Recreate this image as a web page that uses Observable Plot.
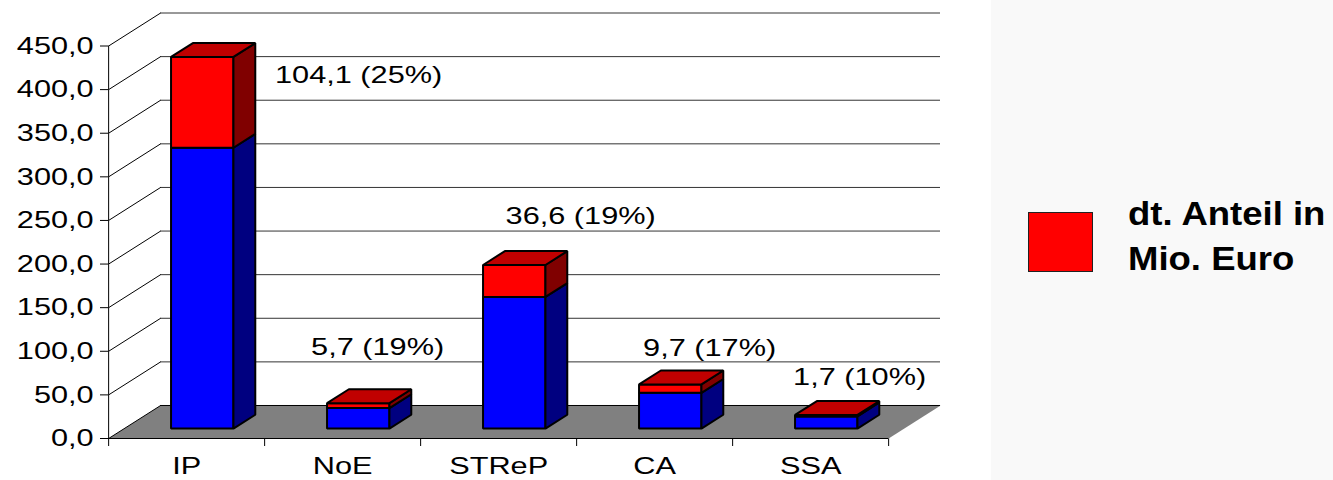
<!DOCTYPE html>
<html>
<head>
<meta charset="utf-8">
<script src="https://cdn.jsdelivr.net/npm/d3@7"></script>
<script src="https://cdn.jsdelivr.net/npm/@observablehq/plot@0.6"></script>
<style>
  body { margin: 0; background: #fff; }
  #wrap { display: flex; width: 1333px; height: 480px; overflow: hidden; }
  #chart { width: 991px; height: 480px; flex: none; }
  #legend { position: relative; width: 342px; height: 480px; flex: none; background: #f9f9f9;
            font-family: "Liberation Sans", Arial, sans-serif; }
  #legend .swatch { position: absolute; left: 37px; top: 212px; width: 63px; height: 58px;
            background: #ff0000; border: 1px solid #222; }
  #legend .ltext { position: absolute; left: 137px; top: 191px; font-weight: bold; font-size: 33.5px;
            line-height: 45px; transform: scaleX(1.09); transform-origin: left top; white-space: nowrap; color: #000; }
</style>
</head>
<body>
<div id="wrap">
  <div id="chart"></div>
  <div id="legend"><div class="swatch"></div><div class="ltext" id="ltext"></div></div>
</div>
<script>
// ---------- data ----------
const categories   = ["IP", "NoE", "STReP", "CA", "SSA"];
const otherShare   = [322, 23.5, 151, 41, 14];          // blue part
const germanShare  = [104.1, 5.7, 36.6, 9.7, 1.7];      // red part (dt. Anteil)
const valueLabels  = ["104,1 (25%)", "5,7 (19%)", "36,6 (19%)", "9,7 (17%)", "1,7 (10%)"];
const yTicks       = [0, 50, 100, 150, 200, 250, 300, 350, 400, 450];
const legendLines  = ["dt. Anteil in", "Mio. Euro"];

// ---------- layout ----------
const S = 1.28;                       // horizontal stretch of the original picture
const W_DISPLAY = 991, H = 480;
const W = W_DISPLAY / S;
const PX_X = 156;                     // stretched px per category
const PX_Y = 0.8722;                  // px per value unit
const DEPTH_X = 52 / PX_X;            // 3D depth offset, category units
const DEPTH_Y = 33 / PX_Y;            // 3D depth offset, value units
const Z1 = 0.3, Z2 = 0.72, GAP = 0.3;
const labelNudge = [[172, 8], [35, -65.5], [82, -58.4], [55, -45.8], [49, -47.3]]; // stretched px

const P = (x, v, z) => ({x: x + z * DEPTH_X, y: v + z * DEPTH_Y});
const faces = {blueFront: [], blueSide: [], redFront: [], redSide: [], redTop: []};
let fid = 0;
function add(kind, pts) { const id = fid++; pts.forEach(p => faces[kind].push({...p, id})); }

categories.forEach((c, i) => {
  const x0 = i + GAP, x1 = i + 1 - GAP;
  const segs = [["blue", 0, otherShare[i]], ["red", otherShare[i], otherShare[i] + germanShare[i]]];
  segs.forEach(([col, v0, v1]) => {
    add(col + "Front", [P(x0, v0, Z1), P(x1, v0, Z1), P(x1, v1, Z1), P(x0, v1, Z1)]);
    add(col + "Side",  [P(x1, v0, Z1), P(x1, v0, Z2), P(x1, v1, Z2), P(x1, v1, Z1)]);
  });
  const t = otherShare[i] + germanShare[i];
  add("redTop", [P(x0, t, Z1), P(x1, t, Z1), P(x1, t, Z2), P(x0, t, Z2)]);
});

const floor = [P(0, 0, 0), P(5, 0, 0), P(5, 0, 1), P(0, 0, 1)];
const labelData = categories.map((c, i) => {
  const t = otherShare[i] + germanShare[i];
  return {x: i + 0.5 + labelNudge[i][0] / PX_X, y: t - labelNudge[i][1] / PX_Y, text: valueLabels[i]};
});

const faceMark = (kind, fill) => Plot.line(faces[kind], {
  x: "x", y: "y", z: "id", fill, stroke: "black", strokeWidth: 2,
  strokeLinejoin: "miter", curve: "linear-closed"
});

const chart = Plot.plot({
  width: W, height: H,
  marginLeft: 108 / S, marginRight: W - (108 + (5 + DEPTH_X) * PX_X) / S,
  marginTop: 12.5, marginBottom: 42,
  style: {fontFamily: "'Liberation Sans', Arial, sans-serif", fontSize: "24px", color: "black", background: "white", overflow: "visible"},
  x: {type: "linear", domain: [0, 5 + DEPTH_X], ticks: [0, 1, 2, 3, 4, 5], tickFormat: () => "", tickSize: 8, label: null},
  y: {type: "linear", domain: [0, 450 + DEPTH_Y], ticks: yTicks, tickSize: 8 / S, tickPadding: 7 / S,
      tickFormat: d => d.toFixed(1).replace(".", ","), label: null},
  marks: [
    Plot.line(floor, {x: "x", y: "y", fill: "#808080", stroke: "none", curve: "linear-closed"}),
    Plot.ruleY(yTicks.slice(1), {y: d => d + DEPTH_Y, x1: DEPTH_X, x2: 5 + DEPTH_X, stroke: "#333", strokeWidth: 1}),
    Plot.ruleY([0], {y: d => d + DEPTH_Y, x1: DEPTH_X, x2: 5 + DEPTH_X, stroke: "black", strokeWidth: 1}),
    Plot.link(yTicks, {x1: 0, y1: d => d, x2: DEPTH_X, y2: d => d + DEPTH_Y, stroke: "black", strokeWidth: 1}),
    Plot.ruleY([0], {x1: 0, x2: 5, stroke: "black", strokeWidth: 1}),
    Plot.ruleX([0], {y1: 0, y2: 450, stroke: "black", strokeWidth: 1}),
    faceMark("blueFront", "#0000ff"),
    faceMark("blueSide", "#000080"),
    faceMark("redFront", "#ff0000"),
    faceMark("redSide", "#800000"),
    faceMark("redTop", "#c00000"),
    Plot.text(labelData, {x: "x", y: "y", text: "text", fontSize: 24, fill: "black"}),
    Plot.text(categories, {x: (d, i) => i + 0.5, y: 0, text: d => d, dy: 28, fontSize: 24, fill: "black"})
  ]
});

chart.setAttribute("width", W_DISPLAY);
chart.setAttribute("height", H);
chart.setAttribute("preserveAspectRatio", "none");
chart.style.width = W_DISPLAY + "px";
chart.style.height = H + "px";
chart.style.maxWidth = "none";
chart.querySelectorAll("path, line").forEach(el => el.setAttribute("vector-effect", "non-scaling-stroke"));
document.getElementById("chart").appendChild(chart);

document.getElementById("ltext").innerHTML = legendLines.join("<br>");
</script>
</body>
</html>
